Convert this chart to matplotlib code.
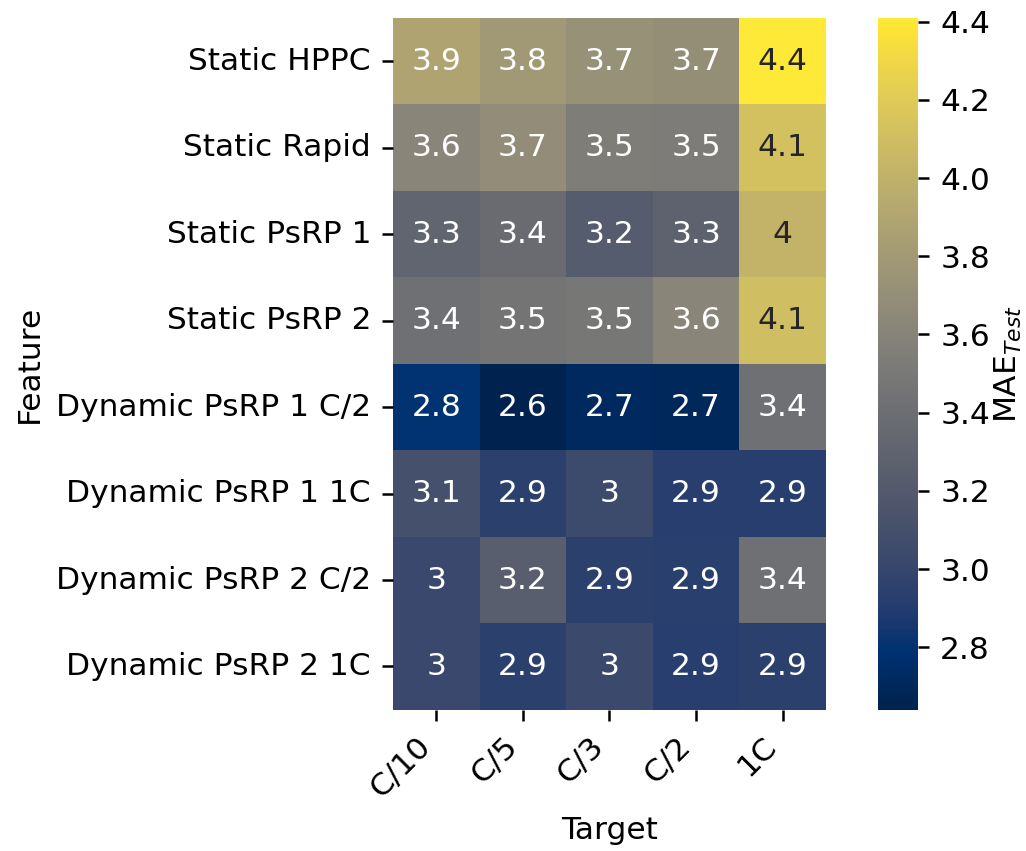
import numpy as np
import pandas as pd
import matplotlib
matplotlib.use("Agg")
import matplotlib.pyplot as plt
import seaborn as sns

features = ["Static HPPC", "Static Rapid", "Static PsRP 1", "Static PsRP 2",
            "Dynamic PsRP 1 C/2", "Dynamic PsRP 1 1C",
            "Dynamic PsRP 2 C/2", "Dynamic PsRP 2 1C"]
targets = ["C/10", "C/5", "C/3", "C/2", "1C"]

# MAE on test set, one list per feature row
static_hppc = [3.88, 3.79, 3.72, 3.70, 4.41]
static_rapid = [3.62, 3.68, 3.54, 3.53, 4.12]
static_psrp1 = [3.31, 3.37, 3.22, 3.28, 4.02]
static_psrp2 = [3.42, 3.46, 3.48, 3.62, 4.10]
dyn_psrp1_c2 = [2.80, 2.64, 2.71, 2.70, 3.42]
dyn_psrp1_1c = [3.10, 2.94, 3.04, 2.92, 2.92]
dyn_psrp2_c2 = [3.02, 3.24, 2.94, 2.93, 3.42]
dyn_psrp2_1c = [3.02, 2.94, 3.03, 2.92, 2.94]

mae = pd.DataFrame([static_hppc, static_rapid, static_psrp1, static_psrp2,
                    dyn_psrp1_c2, dyn_psrp1_1c, dyn_psrp2_c2, dyn_psrp2_1c],
                   index=features, columns=targets)

DPI = 225
fig = plt.figure(figsize=(1026 / DPI, 851 / DPI), dpi=DPI)
ax = fig.add_axes([0.383, 0.166, 0.422, 0.813])
cax = fig.add_axes([0.856, 0.166, 0.039, 0.813])

sns.heatmap(mae, annot=True, cmap="cividis", ax=ax, cbar_ax=cax)
ax.set_xlabel("Target")
ax.set_ylabel("Feature")
ax.set_xticklabels(ax.get_xticklabels(), rotation=45, ha="right")
ax.set_yticklabels(ax.get_yticklabels(), rotation=0)
cax.set_yticks([2.8, 3.0, 3.2, 3.4, 3.6, 3.8, 4.0, 4.2, 4.4])
cax.set_ylabel("MAE$_{Test}$", labelpad=1)

fig.savefig("out.png", dpi=DPI)
